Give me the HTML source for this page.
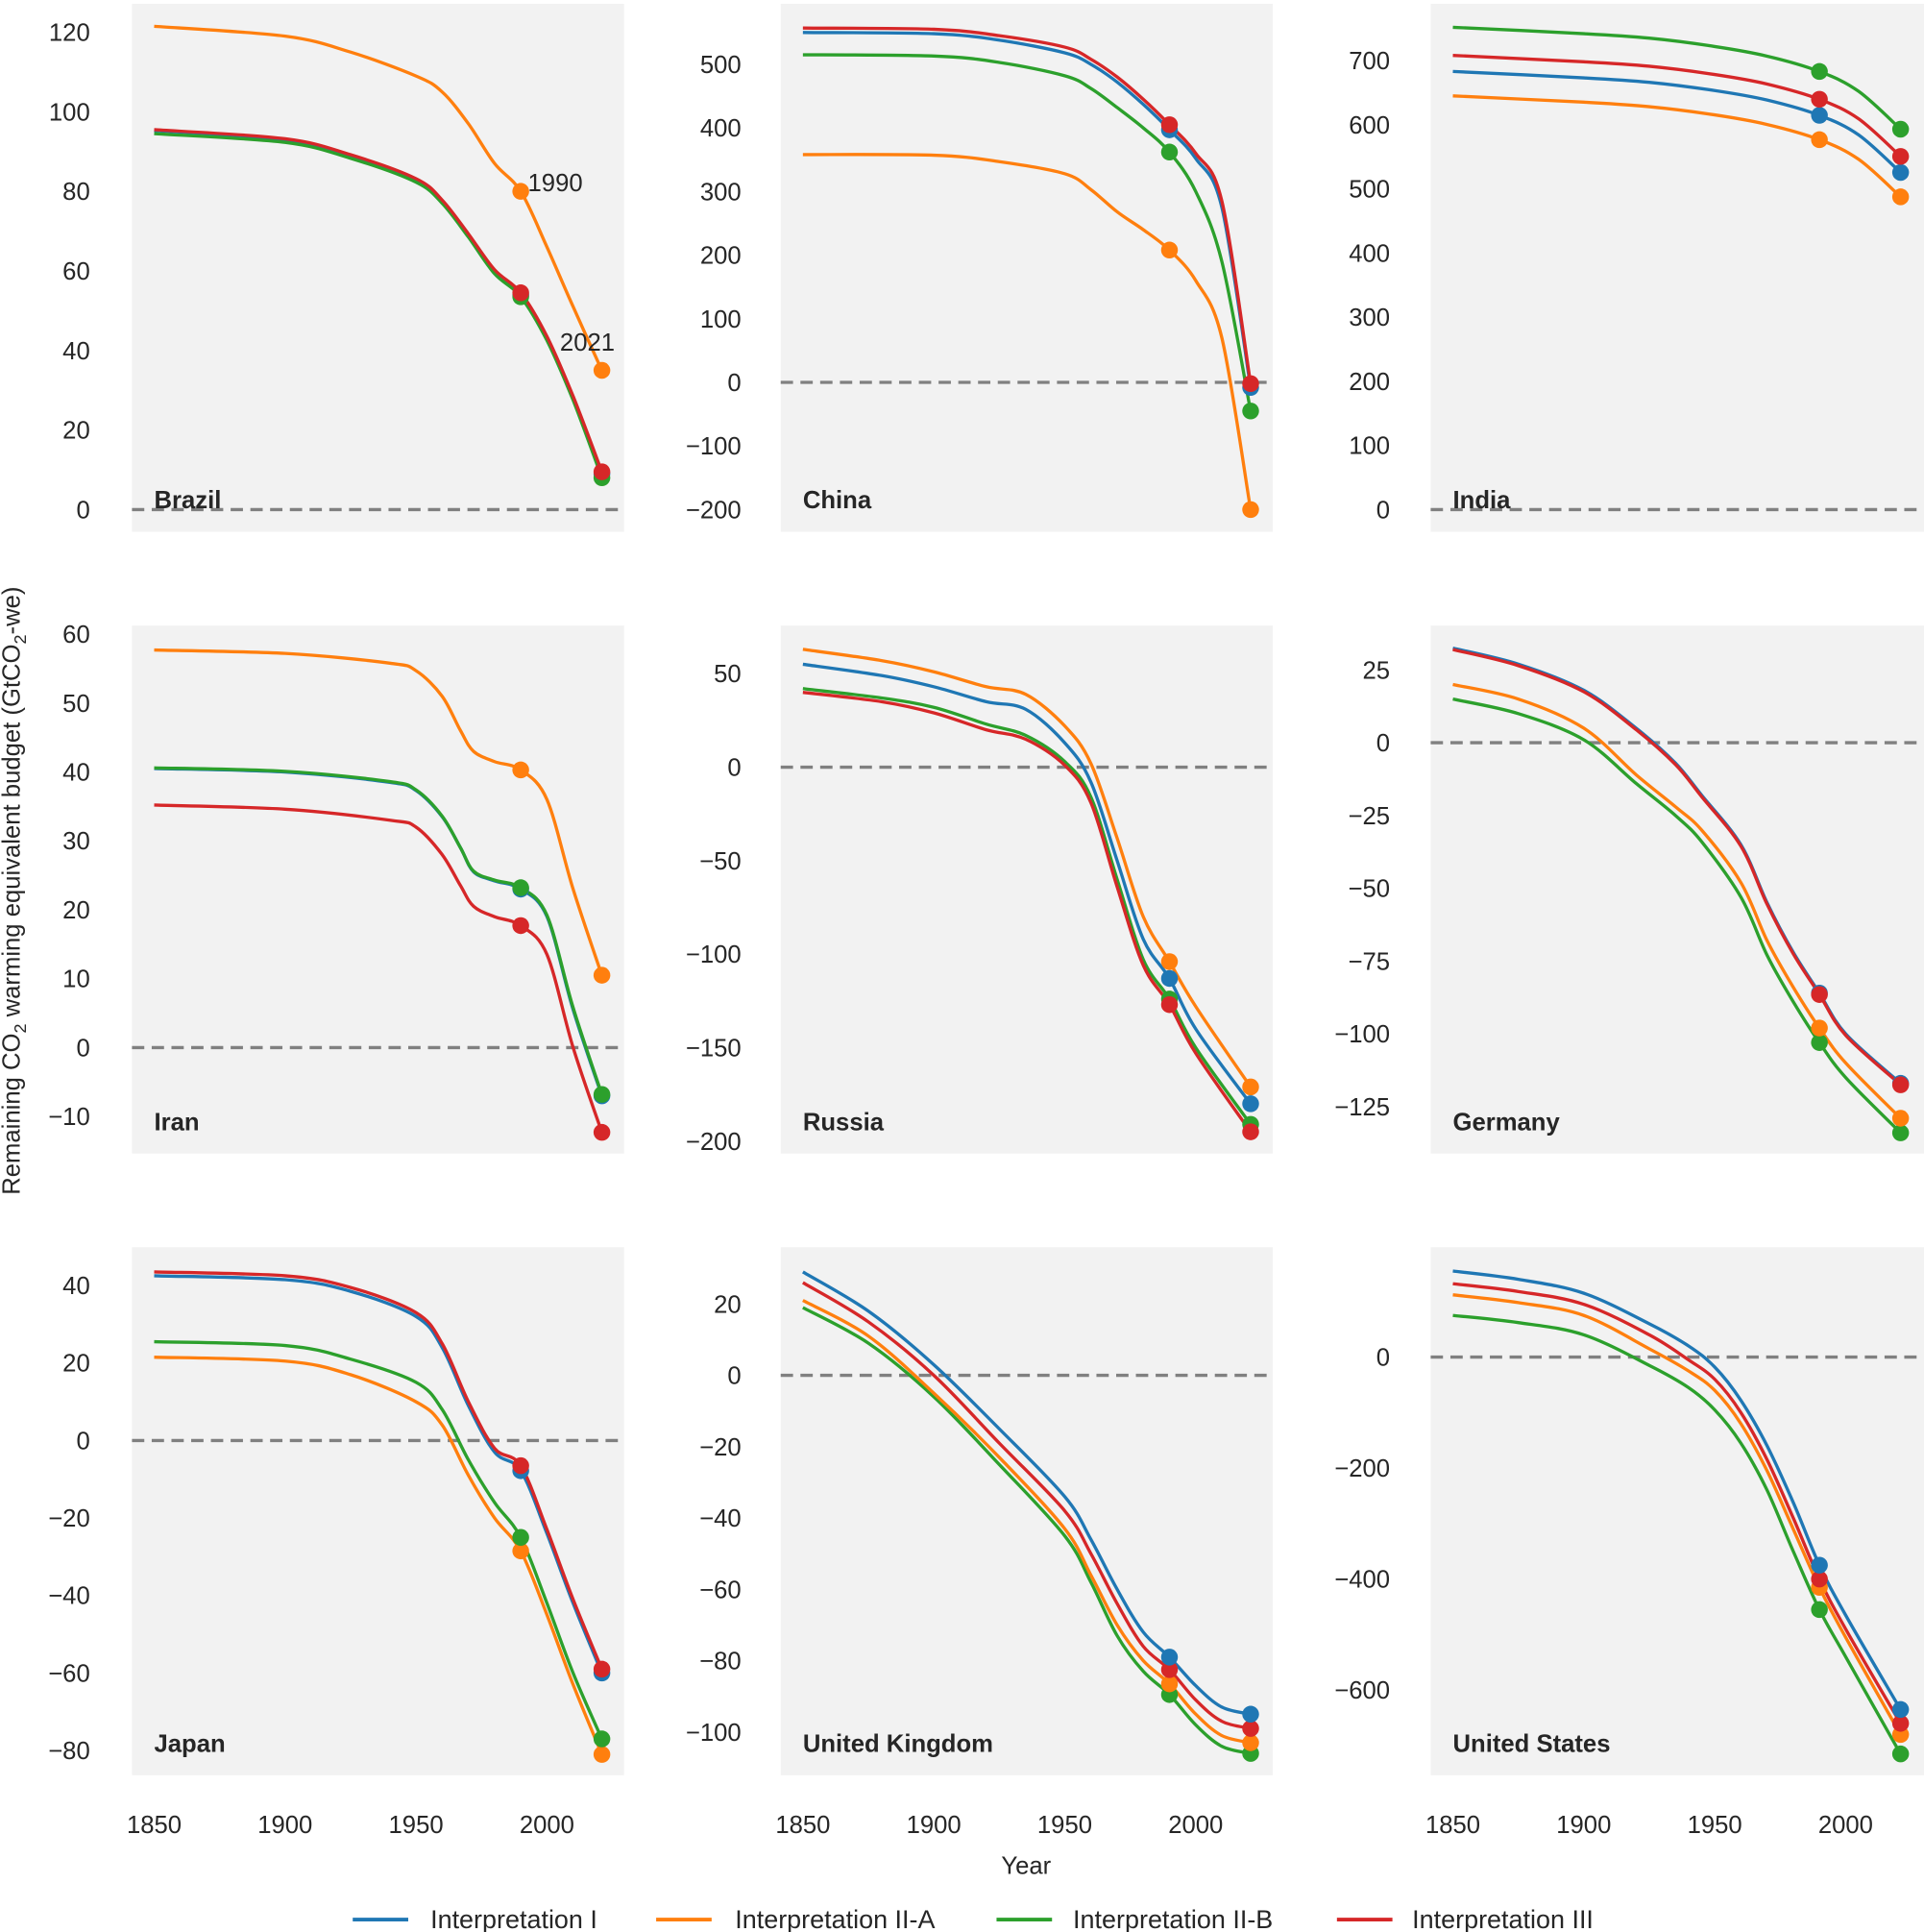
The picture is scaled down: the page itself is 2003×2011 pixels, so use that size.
<!DOCTYPE html>
<html><head><meta charset="utf-8"><style>
html,body{margin:0;padding:0;background:#fff;}
svg{display:block;}
text{font-family:"Liberation Sans",Arial,sans-serif;fill:#262626;}
</style></head><body>
<svg id="s" width="2003" height="2011" viewBox="0 0 1560 1566" xmlns="http://www.w3.org/2000/svg"></svg>
<script>
const C={b:"#1f77b4",o:"#ff7f0e",g:"#2ca02c",r:"#d62728"};
const cols=[{x0:107,x1:506,dx:0},{x0:633,x1:1032,dx:526},{x0:1160,x1:1560,dx:1053}];
const rows=[{y0:3,y1:431},{y0:507,y1:935},{y0:1011,y1:1439}];
function X(c,yr){return 125+cols[c].dx+(yr-1850)*2.123;}
const P=[
 {n:"Brazil",c:0,r:0,ref:[120,26,0,413],ticks:[0,20,40,60,80,100,120],tx:73,
  s:{o:[[1850,121.5],[1900,119],[1925,115],[1950,109],[1960,105],[1970,97],[1980,87],[1990,80],[2000,66],[2010,51],[2021,35]],
     b:[[1850,95.3],[1900,93],[1925,89],[1950,83],[1960,77.5],[1970,69],[1980,60],[1990,54],[2000,43],[2010,28],[2021,9]],
     g:[[1850,94.5],[1900,92.3],[1925,88.3],[1950,82.3],[1960,77],[1970,68.5],[1980,59.3],[1990,53.5],[2000,42.5],[2010,27.5],[2021,8]],
     r:[[1850,95.5],[1900,93.2],[1925,89.2],[1950,83.2],[1960,77.8],[1970,69.3],[1980,60.3],[1990,54.5],[2000,43.5],[2010,28.5],[2021,9.5]]},order:"bgro"},
 {n:"China",c:1,r:0,ref:[500,52,-200,413],ticks:[-200,-100,0,100,200,300,400,500],tx:601,
  s:{o:[[1850,358],[1900,357],[1925,347],[1950,328],[1960,303],[1970,268],[1980,240],[1990,208],[2000,160],[2010,70],[2021,-200]],
     g:[[1850,515],[1900,513],[1925,503],[1950,482],[1960,462],[1970,432],[1980,400],[1990,362],[2000,300],[2010,190],[2021,-45]],
     b:[[1850,550],[1900,548],[1925,538],[1950,518],[1960,500],[1970,472],[1980,437],[1990,397],[2000,352],[2010,275],[2021,-8]],
     r:[[1850,557],[1900,555],[1925,545],[1950,527],[1960,508],[1970,480],[1980,445],[1990,405],[2000,360],[2010,285],[2021,-2]]},order:"ogbr"},
 {n:"India",c:2,r:0,ref:[700,49,0,413],ticks:[0,100,200,300,400,500,600,700],tx:1127,
  s:{}},
 {n:"Iran",c:0,r:1,ref:[60,514,-10,905],ticks:[-10,0,10,20,30,40,50,60],tx:73,
  s:{o:[[1850,57.7],[1900,57.2],[1940,55.8],[1950,54.7],[1960,51],[1967,46],[1972,43],[1980,41.5],[1990,40.3],[2000,36],[2010,23],[2021,10.5]],
     b:[[1850,40.5],[1900,40],[1940,38.5],[1950,37.3],[1960,33.5],[1967,29],[1972,25.5],[1980,24.2],[1990,23],[2000,19],[2010,5.5],[2021,-7]],
     g:[[1850,40.6],[1900,40.1],[1940,38.6],[1950,37.4],[1960,33.6],[1967,29],[1972,25.6],[1980,24.3],[1990,23.2],[2000,19.2],[2010,5.8],[2021,-6.8]],
     r:[[1850,35.2],[1900,34.6],[1940,33],[1950,32],[1960,28],[1967,23.5],[1972,20.5],[1980,19],[1990,17.7],[2000,13.5],[2010,0],[2021,-12.3]]},order:"bgro"},
 {n:"Russia",c:1,r:1,ref:[50,546,-200,925],ticks:[-200,-150,-100,-50,0,50],tx:601,
  s:{o:[[1850,63],[1880,57],[1900,51],[1920,43],[1935,39],[1950,22],[1960,2],[1970,-38],[1980,-80],[1990,-104],[2000,-128],[2021,-171]],
     b:[[1850,55],[1880,49],[1900,43],[1920,35],[1935,31],[1950,13],[1960,-8],[1970,-50],[1980,-92],[1990,-113],[2000,-140],[2021,-180]],
     g:[[1850,42],[1880,37],[1900,32],[1920,23],[1935,17],[1950,3],[1960,-16],[1970,-60],[1980,-103],[1990,-124],[2000,-150],[2021,-191]],
     r:[[1850,40],[1880,35],[1900,29],[1920,20],[1935,15],[1950,1],[1960,-19],[1970,-64],[1980,-106],[1990,-127],[2000,-153],[2021,-195]]},order:"gorb"},
 {n:"Germany",c:2,r:1,ref:[25,543,-125,897],ticks:[-125,-100,-75,-50,-25,0,25],tx:1127,
  s:{g:[[1850,15],[1875,10],[1900,1],[1920,-14],[1935,-25],[1945,-34],[1960,-53],[1970,-73],[1980,-89],[1990,-103],[2000,-115],[2021,-134]],
     o:[[1850,20],[1875,15],[1900,5],[1920,-11],[1935,-22],[1945,-30],[1960,-48],[1970,-68],[1980,-84],[1990,-98],[2000,-110],[2021,-129]],
     b:[[1850,32.5],[1875,27],[1900,18],[1920,5],[1935,-7],[1945,-18],[1960,-35],[1970,-55],[1980,-72],[1990,-86],[2000,-100],[2021,-117]],
     r:[[1850,32],[1875,26.5],[1900,17.5],[1920,4.5],[1935,-7.5],[1945,-18.5],[1960,-35.5],[1970,-55.5],[1980,-72.5],[1990,-86.5],[2000,-100.5],[2021,-117.5]]},order:"gobr"},
 {n:"Japan",c:0,r:2,ref:[40,1042,-80,1419],ticks:[-80,-60,-40,-20,0,20,40],tx:73,
  s:{o:[[1850,21.5],[1900,20.5],[1925,17],[1950,10],[1960,4],[1970,-9],[1980,-20],[1990,-28.5],[2000,-45],[2010,-63],[2021,-81]],
     g:[[1850,25.5],[1900,24.5],[1925,21],[1950,15],[1960,8],[1970,-5],[1980,-16],[1990,-25],[2000,-42],[2010,-60],[2021,-77]],
     b:[[1850,42.5],[1900,41.5],[1925,38.5],[1950,32],[1960,24],[1970,9],[1980,-3],[1990,-7.8],[2000,-24],[2010,-42],[2021,-60]],
     r:[[1850,43.5],[1900,42.5],[1925,39.5],[1950,33],[1960,25],[1970,10],[1980,-2],[1990,-6.5],[2000,-23],[2010,-41],[2021,-59]]},order:"ogbr"},
 {n:"United Kingdom",c:1,r:2,ref:[20,1057,-100,1404],ticks:[-100,-80,-60,-40,-20,0,20],tx:601,
  s:{b:[[1850,29],[1875,18],[1900,3],[1925,-15],[1950,-34],[1960,-46],[1970,-60],[1980,-72],[1990,-79],[2000,-87],[2010,-93],[2021,-95]],
     r:[[1850,26],[1875,15],[1900,0],[1925,-19],[1950,-38],[1960,-50],[1970,-64],[1980,-76],[1990,-82.5],[2000,-91],[2010,-97],[2021,-99]],
     o:[[1850,21],[1875,11],[1900,-5],[1925,-23],[1950,-43],[1960,-56],[1970,-70],[1980,-80],[1990,-86.5],[2000,-95],[2010,-101],[2021,-103]],
     g:[[1850,19],[1875,9],[1900,-6],[1925,-25],[1950,-45],[1960,-58],[1970,-73],[1980,-83],[1990,-89.5],[2000,-98],[2010,-104],[2021,-106]]},order:"gorb"},
 {n:"United States",c:2,r:2,ref:[0,1100,-600,1370],ticks:[-600,-400,-200,0],tx:1127,
  s:{g:[[1850,75],[1875,62],[1900,40],[1925,-15],[1940,-55],[1950,-95],[1960,-155],[1970,-240],[1980,-350],[1990,-455],[2000,-540],[2021,-715]],
     o:[[1850,112],[1875,98],[1900,75],[1925,15],[1940,-25],[1950,-60],[1960,-120],[1970,-205],[1980,-310],[1990,-415],[2000,-505],[2021,-680]],
     r:[[1850,132],[1875,118],[1900,95],[1925,40],[1940,-5],[1950,-40],[1960,-100],[1970,-185],[1980,-290],[1990,-400],[2000,-490],[2021,-660]],
     b:[[1850,155],[1875,140],[1900,115],[1925,60],[1940,20],[1950,-18],[1960,-78],[1970,-160],[1980,-262],[1990,-375],[2000,-465],[2021,-635]]},order:"gorb"}
];
// India generated
(function(){const sh=[[1850,0],[1900,-10],[1925,-17],[1950,-30],[1970,-45],[1990,-69],[2005,-100],[2021,-159]];
 const st={g:752,r:708,b:683,o:645};P[2].order="obrg";
 for(const k in st){P[2].s[k]=sh.map(p=>[p[0],st[k]+p[1]*(k=="g"?1:0.99)]);}})();

let h="";
function path(pts){let d="M"+pts[0][0].toFixed(1)+","+pts[0][1].toFixed(1);
 for(let i=0;i<pts.length-1;i++){const p0=pts[i-1]||pts[i],p1=pts[i],p2=pts[i+1],p3=pts[i+2]||p2;
  const c1=[p1[0]+(p2[0]-p0[0])/6,p1[1]+(p2[1]-p0[1])/6],c2=[p2[0]-(p3[0]-p1[0])/6,p2[1]-(p3[1]-p1[1])/6];
  d+=" C"+c1.map(v=>v.toFixed(1))+" "+c2.map(v=>v.toFixed(1))+" "+p2.map(v=>v.toFixed(1));}
 return d;}
for(const p of P){
 const c=cols[p.c],rw=rows[p.r];
 const [v1,y1,v2,y2]=p.ref;const Y=v=>y1+(v-v1)*(y2-y1)/(v2-v1);
 h+=`<rect x="${c.x0}" y="${rw.y0}" width="${c.x1-c.x0}" height="${rw.y1-rw.y0}" fill="#f2f2f2"/>`;
 for(const t of p.ticks){h+=`<text x="${p.tx}" y="${Y(t)+7}" font-size="20" text-anchor="end">${t<0?"\u2212"+(-t):t}</text>`;}
 h+=`<line x1="${c.x0}" x2="${c.x1}" y1="${Y(0)}" y2="${Y(0)}" stroke="#808080" stroke-width="2.6" stroke-dasharray="10,6"/>`;
 h+=`<text x="${c.x0+18}" y="${rw.y1-19}" font-size="20" font-weight="bold">${p.n}</text>`;
 for(const k of p.order){const pts=p.s[k].map(q=>[X(p.c,q[0]),Y(q[1])]);
  h+=`<path d="${path(pts)}" fill="none" stroke="${C[k]}" stroke-width="2.6"/>`;}
 for(const k of p.order){const a=p.s[k];const f=a.find(q=>q[0]==1990),l=a[a.length-1];
  h+=`<circle cx="${X(p.c,1990)}" cy="${Y(f[1])}" r="6.8" fill="${C[k]}"/><circle cx="${X(p.c,2021)}" cy="${Y(l[1])}" r="6.8" fill="${C[k]}"/>`;}
}
for(let c=0;c<3;c++){for(const yr of [1850,1900,1950,2000]){h+=`<text x="${X(c,yr)}" y="1486" font-size="20" text-anchor="middle">${yr}</text>`;}}
h+=`<text x="428" y="155" font-size="20">1990</text><text x="454" y="284" font-size="20">2021</text>`;
h+=`<text x="832" y="1519" font-size="20" text-anchor="middle">Year</text>`;
h+=`<text transform="translate(16,722) rotate(-90)" font-size="20" text-anchor="middle">Remaining CO<tspan font-size="14" dy="5">2</tspan><tspan dy="-5"> warming equivalent budget (GtCO</tspan><tspan font-size="14" dy="5">2</tspan><tspan dy="-5">-we)</tspan></text>`;
const L=[["b",286,349,"Interpretation I"],["o",532,596,"Interpretation II-A"],["g",808,870,"Interpretation II-B"],["r",1084,1145,"Interpretation III"]];
for(const l of L){h+=`<line x1="${l[1]}" x2="${l[1]+45}" y1="1556" y2="1556" stroke="${C[l[0]]}" stroke-width="3"/><text x="${l[2]}" y="1563" font-size="21">${l[3]}</text>`;}
document.getElementById("s").innerHTML=h;
</script>
</body></html>
